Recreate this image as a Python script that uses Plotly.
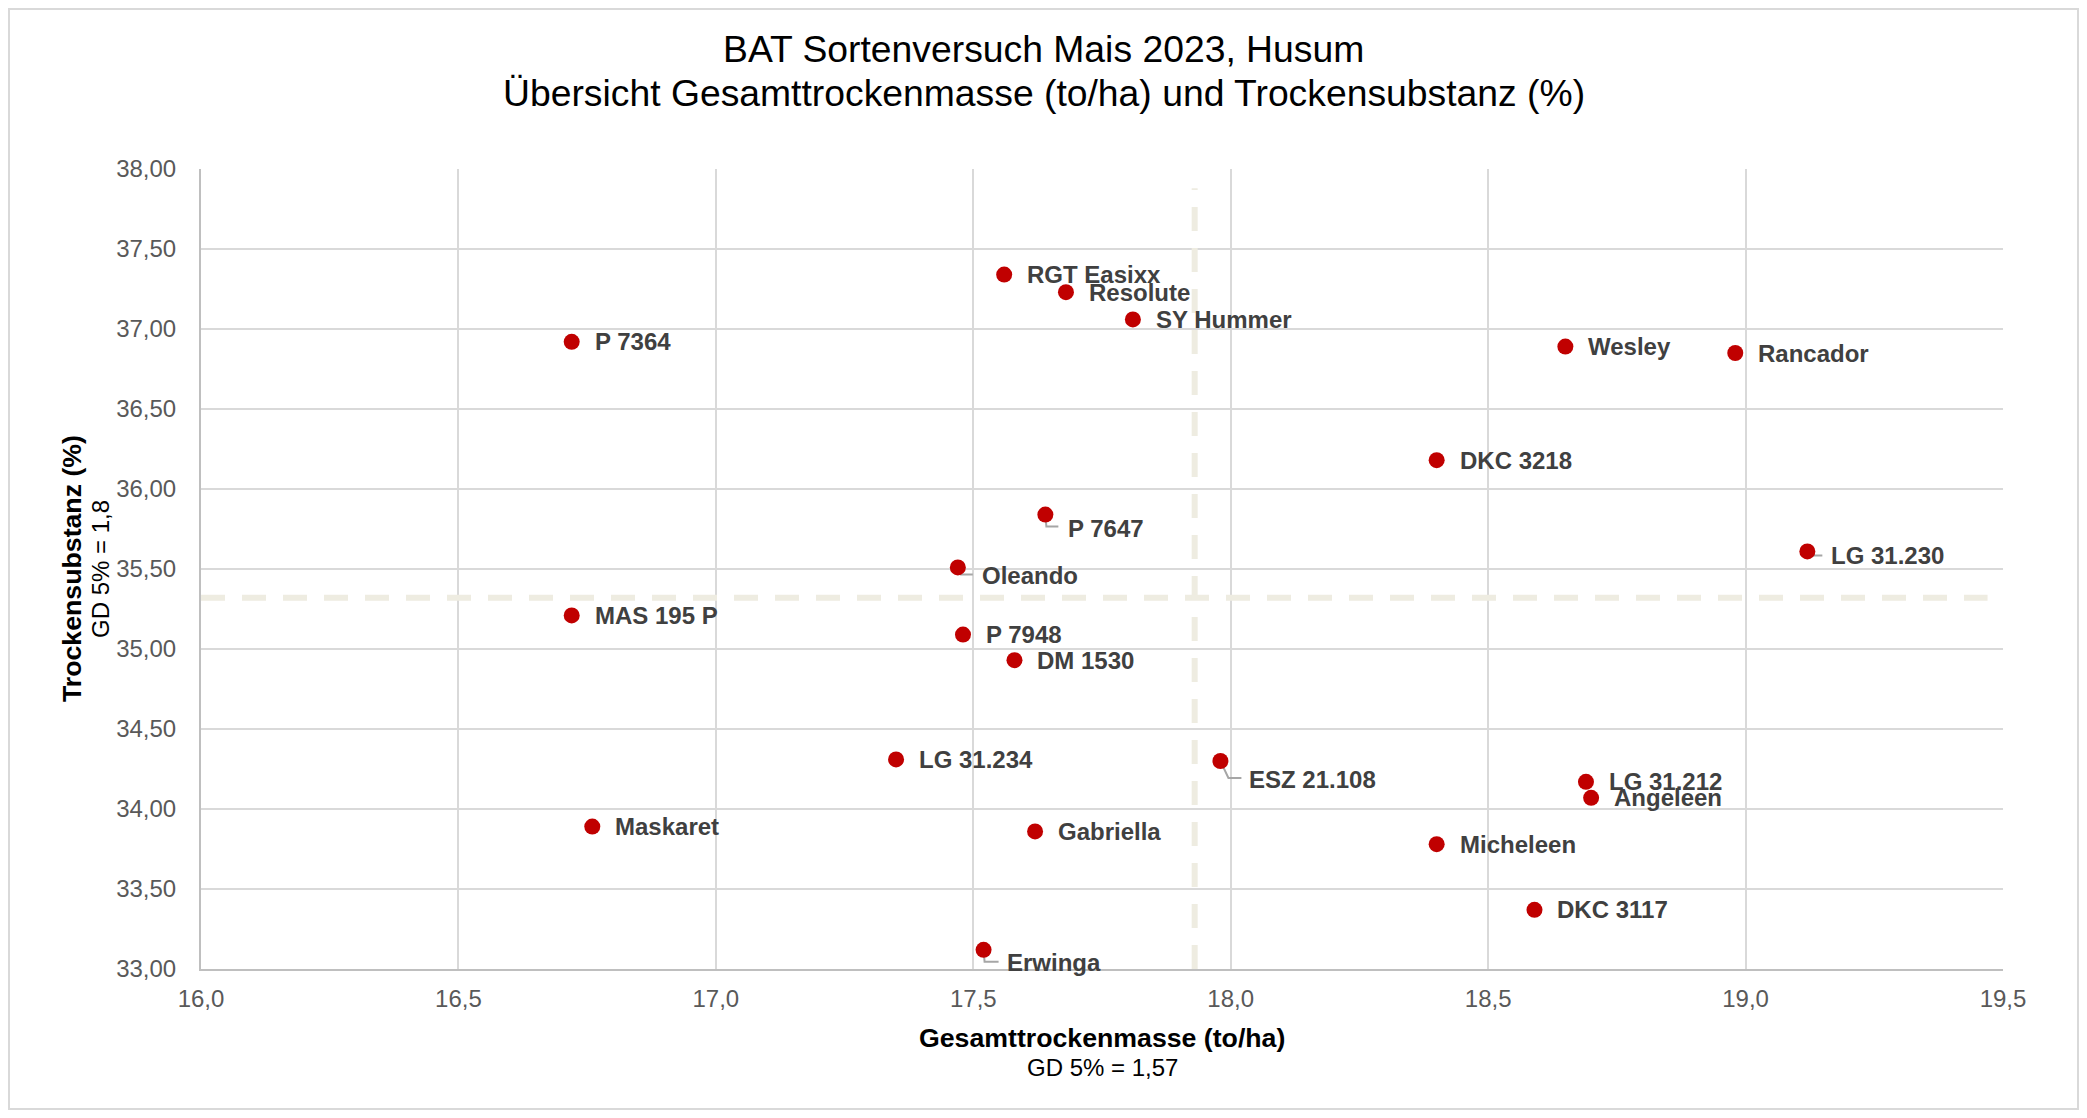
import plotly.graph_objects as go

# ---------------- data ----------------
sorten = ["P 7364", "RGT Easixx", "Resolute", "SY Hummer", "Wesley", "Rancador",
          "DKC 3218", "P 7647", "LG 31.230", "Oleando", "MAS 195 P", "P 7948",
          "DM 1530", "LG 31.234", "ESZ 21.108", "LG 31.212", "Angeleen",
          "Maskaret", "Gabriella", "Micheleen", "DKC 3117", "Erwinga"]
gesamttrockenmasse = [16.72, 17.56, 17.68, 17.81, 18.65, 18.98,
                      18.40, 17.64, 19.12, 17.47, 16.72, 17.48,
                      17.58, 17.35, 17.98, 18.69, 18.70,
                      16.76, 17.62, 18.40, 18.59, 17.52]
trockensubstanz = [36.92, 37.34, 37.23, 37.06, 36.89, 36.85,
                   36.18, 35.84, 35.61, 35.51, 35.21, 35.09,
                   34.93, 34.31, 34.30, 34.17, 34.07,
                   33.89, 33.86, 33.78, 33.37, 33.12]
mittel_gtm = 17.93
mittel_ts = 35.32

title_lines = ["BAT Sortenversuch Mais 2023, Husum",
               "Übersicht Gesamttrockenmasse (to/ha) und Trockensubstanz (%)"]
x_title = "Gesamttrockenmasse (to/ha)"
x_sub = "GD 5% = 1,57"
y_title = "Trockensubstanz (%)"
y_sub = "GD 5% = 1,8"

# ---------------- styles / positions ----------------
OFF = 8  # default page body margin
W, H = 2087 - 2 * OFF, 1118 - 2 * OFF
ML, MT = 201 - OFF, 169 - OFF
PW, PH = 1802, 800
MR = W - ML - PW
MB = H - MT - PH
FONT = "Arial, 'Liberation Sans', sans-serif"
RED = "#c00000"
LABEL_COL = "#404040"
TICK_COL = "#595959"
GRID = "#d9d9d9"
REF_COL = "#eeece1"
LEADER = "#a6a6a6"

# label offsets (dx right, dy down, in px) and leader paths
default_off = (23, 0)
label_off = {
    "P 7647": (23, 14),
    "Oleando": (24, 8),
    "LG 31.230": (24, 4),
    "ESZ 21.108": (29, 18),
    "Erwinga": (23, 13),
}
leader_paths = {
    "P 7647": "M0,0 L1,-12 L13,-12",
    "Oleando": "M0,0 L3,-7 L15,-7",
    "LG 31.230": "M0,0 L2,-4 L15,-4",
    "ESZ 21.108": "M0,0 L8,-17 L21,-17",
    "Erwinga": "M0,0 L1,-12 L15,-12",
}
h_ref_x = (16.0, 19.47)
v_ref_y = (33.0, 37.88)


def fx(px):  # figure pixel -> paper x
    return (px - ML) / PW


def fy(py):  # figure pixel -> paper y
    return (MT + PH - py) / PH


def px_to_paper_x(px):  # page pixel
    return fx(px - OFF)


def px_to_paper_y(py):
    return fy(py - OFF)


fig = go.Figure()
fig.add_trace(go.Scatter(
    x=gesamttrockenmasse, y=trockensubstanz, mode="markers",
    marker=dict(color=RED, size=16, line=dict(width=0)),
    text=sorten, hoverinfo="text+x+y", showlegend=False, cliponaxis=False,
))

shapes = []
# border of chart area
shapes.append(dict(type="rect", xref="paper", yref="paper",
                   x0=fx(1), x1=fx(W - 1), y0=fy(H - 1), y1=fy(1),
                   line=dict(color=GRID, width=2), fillcolor="rgba(0,0,0,0)",
                   layer="above"))
# reference (mean) lines
shapes.append(dict(type="line", xref="x", yref="y",
                   x0=h_ref_x[0], x1=h_ref_x[1], y0=mittel_ts, y1=mittel_ts,
                   line=dict(color=REF_COL, width=6, dash="24px,17px"), layer="between"))
shapes.append(dict(type="line", xref="x", yref="y",
                   x0=mittel_gtm, x1=mittel_gtm, y0=v_ref_y[0], y1=v_ref_y[1],
                   line=dict(color=REF_COL, width=6, dash="24px,17px"), layer="between"))

annotations = []
for name, xv, yv in zip(sorten, gesamttrockenmasse, trockensubstanz):
    dx, dy = label_off.get(name, default_off)
    annotations.append(dict(
        x=xv, y=yv, xref="x", yref="y", text="<b>%s</b>" % name,
        showarrow=False, xanchor="left", yanchor="middle",
        xshift=dx - 2, yshift=-dy,
        font=dict(family=FONT, size=24, color=LABEL_COL),
    ))
    if name in leader_paths:
        shapes.append(dict(type="path", xref="x", yref="y",
                           xsizemode="pixel", ysizemode="pixel",
                           xanchor=xv, yanchor=yv, path=leader_paths[name],
                           line=dict(color=LEADER, width=2), layer="between"))

# titles
for line, py in zip(title_lines, (49, 93)):
    annotations.append(dict(
        x=px_to_paper_x(1043.5), y=px_to_paper_y(py), xref="paper", yref="paper",
        text=line, showarrow=False, xanchor="center", yanchor="middle",
        font=dict(family=FONT, size=37.3, color="#000000"),
    ))
annotations.append(dict(
    x=0.5, y=px_to_paper_y(1038), xref="paper", yref="paper",
    text="<b>%s</b>" % x_title, showarrow=False, xanchor="center", yanchor="middle",
    font=dict(family=FONT, size=26.7, color="#000000")))
annotations.append(dict(
    x=0.5, y=px_to_paper_y(1067), xref="paper", yref="paper",
    text=x_sub, showarrow=False, xanchor="center", yanchor="middle",
    font=dict(family=FONT, size=24, color="#000000")))
annotations.append(dict(
    x=px_to_paper_x(72), y=0.5, xref="paper", yref="paper",
    text="<b>%s</b>" % y_title, showarrow=False, xanchor="center", yanchor="middle",
    textangle=-90, font=dict(family=FONT, size=26.7, color="#000000")))
annotations.append(dict(
    x=px_to_paper_x(100), y=0.5, xref="paper", yref="paper",
    text=y_sub, showarrow=False, xanchor="center", yanchor="middle",
    textangle=-90, font=dict(family=FONT, size=24, color="#000000")))

axis_common = dict(
    showgrid=True, gridcolor=GRID, gridwidth=2,
    showline=True, linecolor="#bfbfbf", linewidth=2,
    zeroline=False, ticks="",
    tickfont=dict(family=FONT, size=24, color=TICK_COL),
)
fig.update_layout(
    width=W, height=H,
    margin=dict(l=ML, r=MR, t=MT, b=MB, pad=0),
    paper_bgcolor="white", plot_bgcolor="white",
    separators=",.",
    font=dict(family=FONT),
    xaxis=dict(range=[16.0, 19.5], dtick=0.5, tick0=16.0, tickformat=".1f",
               ticklabelstandoff=7, **axis_common),
    yaxis=dict(range=[33.0, 38.0], dtick=0.5, tick0=33.0, tickformat=".2f",
               ticklabelstandoff=18, **axis_common),
    shapes=shapes, annotations=annotations,
    showlegend=False,
)

fig.write_html("out.html")
